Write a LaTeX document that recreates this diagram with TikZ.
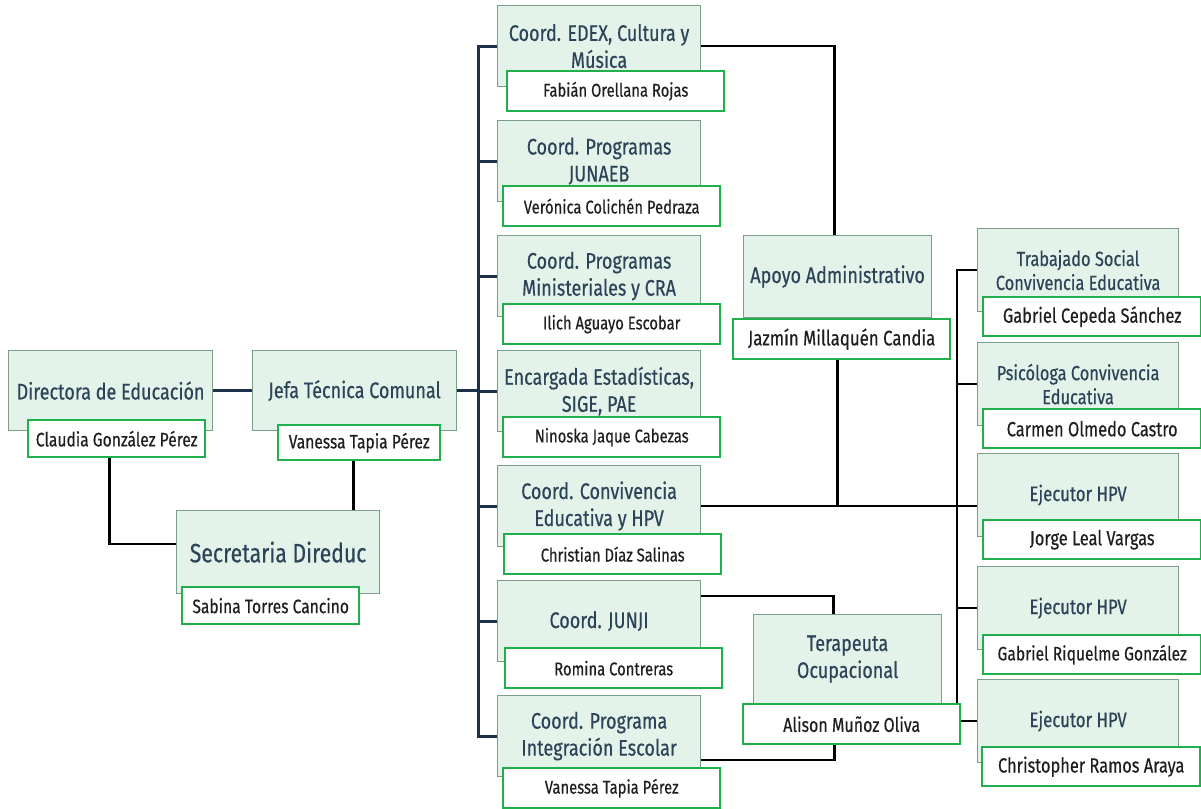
\documentclass[tikz,border=0pt]{standalone}
\usepackage{fontspec}
\setmainfont{Fira Sans}[FakeStretch=0.8, FakeBold=0.4]
\usetikzlibrary{calc, backgrounds}
\definecolor{roleFill}{HTML}{E3F3E9}
\definecolor{roleEdge}{HTML}{7E9C8A}
\definecolor{nameGreen}{HTML}{1FAF4B}
\definecolor{titleBlue}{HTML}{2C4358}
\definecolor{nameBlack}{HTML}{1E1E1E}
\definecolor{lineNavy}{HTML}{1D3049}

\begin{document}
\begin{tikzpicture}[x=1pt, y=-1pt,
    roleBox/.style={draw=roleEdge, line width=1.2pt, fill=roleFill, text=titleBlue, anchor=north west,
        minimum width=203pt, minimum height=81pt, inner sep=0pt, align=center, font=\fontsize{22.5}{27}\selectfont},
    nameBox/.style={draw=nameGreen, line width=2.4pt, fill=white, text=nameBlack, anchor=north west,
        minimum width=217pt, minimum height=40pt, inner sep=0pt, font=\fontsize{18.5}{22}\selectfont},
    navyLine/.style={draw=lineNavy, line width=3pt},
    blackLine/.style={draw=black, line width=2.6pt}]
    \useasboundingbox (0,0) rectangle (1201,808);

    % direccion
    \node[roleBox, minimum width=204pt, minimum height=80pt] (dir) at (8,350) {Directora de Educación};
    \node[nameBox, minimum width=177pt, minimum height=37pt, font=\fontsize{19.5}{22}\selectfont] (dirN) at (27,419) {Claudia González Pérez};
    \node[roleBox, minimum width=204pt, minimum height=80pt] (jefa) at (252,350) {Jefa Técnica Comunal};
    \node[nameBox, minimum width=162pt, minimum height=35pt, font=\fontsize{19.5}{22}\selectfont] (jefaN) at (277,424) {Vanessa Tapia Pérez};
    \node[roleBox, minimum height=83pt, font=\fontsize{26.5}{30}\selectfont] (sec) at (176,510) {Secretaria Direduc};
    \node[nameBox, minimum width=177pt, minimum height=37pt, font=\fontsize{19.5}{22}\selectfont] (secN) at (181,586) {Sabina Torres Cancino};

    % coordinaciones
    \node[roleBox] (edex) at (497,5) {Coord. EDEX, Cultura y\\Música};
    \node[nameBox] (edexN) at (506,70) {Fabián Orellana Rojas};
    \node[roleBox] (junaeb) at (497,120) {Coord. Programas\\JUNAEB};
    \node[nameBox] (junaebN) at (502,185) {Verónica Colichén Pedraza};
    \node[roleBox] (min) at (497,235) {Coord. Programas\\Ministeriales y CRA};
    \node[nameBox] (minN) at (502,303) {Ilich Aguayo Escobar};
    \node[roleBox] (est) at (497,350) {Encargada Estadísticas,\\SIGE, PAE};
    \node[nameBox] (estN) at (502,416) {Ninoska Jaque Cabezas};
    \node[roleBox] (conv) at (497,465) {Coord. Convivencia\\Educativa y HPV};
    \node[nameBox] (convN) at (503,533) {Christian Díaz Salinas};
    \node[roleBox] (junji) at (497,580) {Coord. JUNJI};
    \node[nameBox] (junjiN) at (504,647) {Romina Contreras};
    \node[roleBox] (pie) at (497,695) {Coord. Programa\\Integración Escolar};
    \node[nameBox] (pieN) at (502,767) {Vanessa Tapia Pérez};

    % apoyo y terapeuta
    \node[roleBox, minimum width=188pt, minimum height=82pt] (apoyo) at (743,235) {Apoyo Administrativo};
    \node[nameBox, font=\fontsize{21}{24}\selectfont] (apoyoN) at (732,318) {Jazmín Millaquén Candia};
    \node[roleBox, minimum width=188pt, minimum height=89pt] (tera) at (753,614) {Terapeuta\\Ocupacional};
    \node[nameBox, font=\fontsize{20}{23}\selectfont] (teraN) at (742,703) {Alison Muñoz Oliva};

    % convivencia educativa
    \node[roleBox, minimum width=201pt, minimum height=83pt, font=\fontsize{20.5}{24}\selectfont] (ts) at (977,228) {Trabajado Social\\Convivencia Educativa};
    \node[nameBox, minimum width=218pt, minimum height=39pt, font=\fontsize{20.5}{23}\selectfont] (tsN) at (982,296) {Gabriel Cepeda Sánchez};
    \node[roleBox, minimum width=201pt, minimum height=83pt, font=\fontsize{20.5}{24}\selectfont] (psi) at (977,342) {Psicóloga Convivencia\\Educativa};
    \node[nameBox, minimum width=218pt, minimum height=39pt, font=\fontsize{20.5}{23}\selectfont] (psiN) at (982,408) {Carmen Olmedo Castro};
    \node[roleBox, minimum width=201pt, minimum height=83pt, font=\fontsize{21}{24}\selectfont] (hpvA) at (977,453) {Ejecutor HPV};
    \node[nameBox, minimum width=218pt, minimum height=39pt, font=\fontsize{20.5}{23}\selectfont] (hpvAN) at (982,519) {Jorge Leal Vargas};
    \node[roleBox, minimum width=201pt, minimum height=83pt, font=\fontsize{21}{24}\selectfont] (hpvB) at (977,566) {Ejecutor HPV};
    \node[nameBox, minimum width=218pt, minimum height=39pt, font=\fontsize{19.5}{23}\selectfont] (hpvBN) at (982,634) {Gabriel Riquelme González};
    \node[roleBox, minimum width=201pt, minimum height=83pt, font=\fontsize{21}{24}\selectfont] (hpvC) at (977,679) {Ejecutor HPV};
    \node[nameBox, minimum width=218pt, minimum height=39pt, font=\fontsize{20.5}{23}\selectfont] (hpvCN) at (981,746) {Christopher Ramos Araya};

    \begin{scope}[on background layer]
        \coordinate (trunkTop) at ($(edex.west)+(-19,0)$);
        \coordinate (rTop) at ($(ts.west)+(-20,0)$);
        \coordinate (dirDrop) at ($(dirN.south)+(-7,0)$);
        \coordinate (jefaDrop) at ($(jefaN.south)+(-6,0)$);
        \coordinate (apoyoDrop) at ($(apoyoN.south)+(-4,0)$);

        \draw[navyLine] (dir.east) -- (jefa.west);
        \draw[navyLine] (jefa.east) -- (jefa.east -| trunkTop);
        \draw[navyLine] (edex.west) -- (trunkTop) -- (trunkTop |- pie.west) -- (pie.west);
        \draw[navyLine] (junaeb.west) -- (junaeb.west -| trunkTop);
        \draw[navyLine] (min.west) -- (min.west -| trunkTop);
        \draw[navyLine] (est.west) -- (est.west -| trunkTop);
        \draw[navyLine] (conv.west) -- (conv.west -| trunkTop);
        \draw[navyLine] (junji.west) -- (junji.west -| trunkTop);

        \draw[blackLine] (dirDrop) |- ($(sec.west)+(0,-8)$);
        \draw[blackLine] (jefaDrop) -- (jefaDrop |- sec.north);
        \draw[blackLine] (edex.east) -| ($(apoyo.north)+(-3,0)$);
        \draw[blackLine] (apoyoDrop) -- (apoyoDrop |- conv.east);
        \draw[blackLine] (conv.east) -- (conv.east -| hpvA.west);
        \draw[blackLine] ($(junji.north east)+(0,16)$) -| ($(tera.north)+(-14,0)$);
        \draw[blackLine] ($(pie.north east)+(0,65)$) -| ($(teraN.south)+(-17,0)$);

        \draw[blackLine] (ts.west) -- (rTop) -- (rTop |- hpvC.west) -- (hpvC.west);
        \draw[blackLine] (psi.west) -- (psi.west -| rTop);
        \draw[blackLine] (hpvB.west) -- (hpvB.west -| rTop);
    \end{scope}
\end{tikzpicture}
\end{document}
